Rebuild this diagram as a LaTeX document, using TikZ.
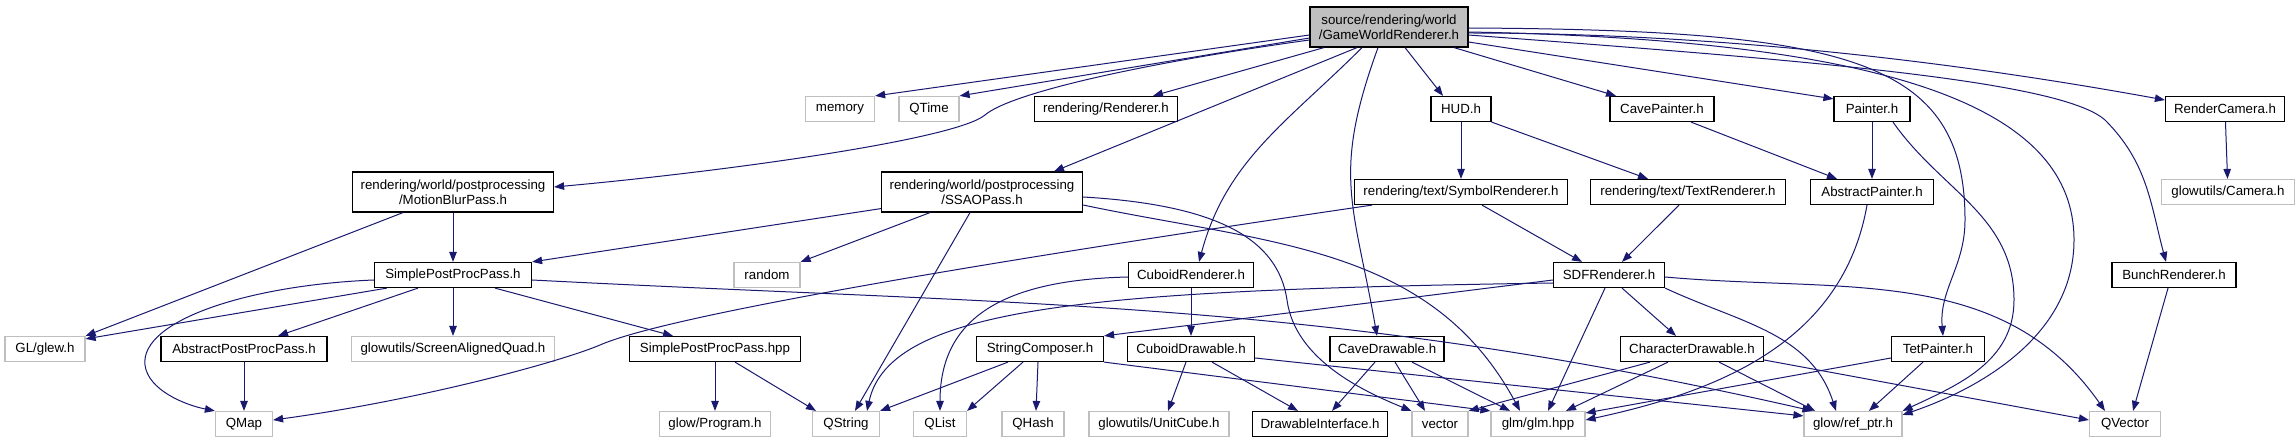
\documentclass[tikz,border=0pt]{standalone}
\usepackage{fontspec}
\setmainfont{Liberation Sans}
\usetikzlibrary{arrows.meta}
\definecolor{edgeblue}{RGB}{25,25,112}
\definecolor{boxgray}{RGB}{191,191,191}

\begin{document}
\begin{tikzpicture}[x=1pt,y=1pt,
	box/.style={rectangle, line width=1.2pt, fill=white, minimum height=25pt, inner xsep=0pt, inner ysep=0pt, align=center, font=\fontsize{13.3}{15}\selectfont},
	incl/.style={box, draw=black, minimum width=#1pt},
	sysinc/.style={box, draw=boxgray, minimum width=#1pt},
	mainfile/.style={box, draw=black, fill=boxgray, minimum width=#1pt, minimum height=40pt},
	twoline/.style={minimum height=40pt},
	uses/.style={draw=edgeblue, line width=1pt, -{Triangle[length=10pt,width=7.5pt]}}]
			\useasboundingbox[fill=white] (0,0) rectangle (2296,-443);
% 			files, row by row
			\node[mainfile=158] (gwr) at (1389,-27) {source/rendering/world\\/GameWorldRenderer.h};
			\node[sysinc=69] (memory) at (840,-109) {memory};
			\node[sysinc=60] (qtime) at (929,-109) {QTime};
			\node[incl=143] (renderer) at (1106,-109) {rendering/Renderer.h};
			\node[incl=60] (hud) at (1461,-109) {HUD.h};
			\node[incl=104] (cavepainter) at (1662,-109) {CavePainter.h};
			\node[incl=76] (painter) at (1872,-109) {Painter.h};
			\node[incl=119] (rendercam) at (2225,-109) {RenderCamera.h};
			\node[incl=201, twoline] (motionblur) at (453,-192) {rendering/world/postprocessing\\/MotionBlurPass.h};
			\node[incl=201, twoline] (ssao) at (982,-192) {rendering/world/postprocessing\\/SSAOPass.h};
			\node[incl=213] (symbol) at (1461,-192) {rendering/text/SymbolRenderer.h};
			\node[incl=195] (textrend) at (1688,-192) {rendering/text/TextRenderer.h};
			\node[incl=123] (abspainter) at (1872,-192) {AbstractPainter.h};
			\node[sysinc=133] (camera) at (2228,-192) {glowutils/Camera.h};
			\node[incl=157] (simplepp) at (453,-275) {SimplePostProcPass.h};
			\node[sysinc=66] (random) at (767,-275) {random};
			\node[incl=125] (cuboidrend) at (1191,-275) {CuboidRenderer.h};
			\node[incl=111] (sdf) at (1609,-275) {SDFRenderer.h};
			\node[incl=124] (bunch) at (2174,-275) {BunchRenderer.h};
			\node[sysinc=80] (glew) at (45,-349) {GL/glew.h};
			\node[incl=166] (abspp) at (244,-349) {AbstractPostProcPass.h};
			\node[sysinc=203] (quad) at (453,-349) {glowutils/ScreenAlignedQuad.h};
			\node[incl=171] (simpleppx) at (715,-349) {SimplePostProcPass.hpp};
			\node[incl=127] (stringcomp) at (1040,-349) {StringComposer.h};
			\node[incl=127] (cuboiddraw) at (1191,-349) {CuboidDrawable.h};
			\node[incl=114] (cavedraw) at (1387,-349) {CaveDrawable.h};
			\node[incl=143] (chardraw) at (1692,-349) {CharacterDrawable.h};
			\node[incl=93] (tetpainter) at (1938,-349) {TetPainter.h};
			\node[sysinc=57] (qmap) at (244,-424) {QMap};
			\node[sysinc=111] (program) at (715,-424) {glow/Program.h};
			\node[sysinc=67] (qstring) at (846,-424) {QString};
			\node[sysinc=53] (qlist) at (940,-424) {QList};
			\node[sysinc=62] (qhash) at (1033,-424) {QHash};
			\node[sysinc=140] (unitcube) at (1159,-424) {glowutils/UnitCube.h};
			\node[incl=135] (drawable) at (1320,-424) {DrawableInterface.h};
			\node[sysinc=56] (vector) at (1440,-424) {vector};
			\node[sysinc=94] (glm) at (1538,-424) {glm/glm.hpp};
			\node[sysinc=98] (refptr) at (1853,-424) {glow/ref\_ptr.h};
			\node[sysinc=71] (qvector) at (2125,-424) {QVector};

			\begin{scope}
			\draw[uses] ([yshift=-8pt]gwr.west) -- (memory.north east);
			\draw[uses] ([yshift=-11pt]gwr.west) -- (qtime.north east);
			\draw[uses] ([yshift=-13pt]gwr.west) .. controls (1150,-62) and (1012,-92) .. (985,-115) .. controls (955,-140) and (720,-172) .. ([yshift=5pt]motionblur.east);
			\draw[uses] ([xshift=-65pt]gwr.south) -- ([xshift=47pt]renderer.north);
			\draw[uses] ([xshift=-32pt]gwr.south) -- ([xshift=72pt]ssao.north);
			\draw[uses] ([xshift=-27pt]gwr.south) to[out=-135,in=75] ([xshift=8pt]cuboidrend.north);
			\draw[uses] ([xshift=-11pt]gwr.south) to[out=-110,in=100,looseness=1.2] ([xshift=-10pt]cavedraw.north);
			\draw[uses] ([xshift=16pt]gwr.south) -- ([xshift=-18pt]hud.north);
			\draw[uses] ([xshift=65pt]gwr.south) -- ([xshift=-46pt]cavepainter.north);
			\draw[uses] ([yshift=-15pt]gwr.east) -- ([yshift=-3pt]painter.north west);
			\draw[uses] ([yshift=-6pt]gwr.east) .. controls (1750,-33) and (2000,-70) .. ([yshift=9pt]rendercam.west);
			\draw[uses] ([yshift=-1pt]gwr.east) .. controls (1850,-30) and (1965,-60) .. (1965,-220) to[out=-90,in=95] ([xshift=5pt]tetpainter.north);
			\draw[uses] ([yshift=-5pt]gwr.east) .. controls (1900,-40) and (2074,-110) .. (2074,-240) .. controls (2074,-330) and (1990,-385) .. ([yshift=-4pt]refptr.north east);
			\draw[uses] ([yshift=-8pt]gwr.east) .. controls (1800,-60) and (2060,-80) .. (2105,-120) to[out=-45,in=105] ([xshift=-8pt]bunch.north);
			\end{scope}

			\draw[uses] (motionblur) -- (simplepp);
			\draw[uses] ([xshift=-50pt]motionblur.south) -- (glew.north east);
			\draw[uses] ([yshift=4pt]ssao.south west) -- (simplepp.north east);
			\draw[uses] ([xshift=-52pt]ssao.south) -- (random.north east);
			\draw[uses] ([xshift=-12pt]ssao.south) -- ([xshift=9pt]qstring.north);
			\draw[uses] ([yshift=-5pt]ssao.east) .. controls (1220,-205) and (1278,-240) .. (1287,-300) .. controls (1295,-360) and (1365,-392) .. (vector.north west);
			\draw[uses] ([yshift=-13pt]ssao.east) .. controls (1268,-244) and (1431,-245) .. ([xshift=-18pt]glm.north);
			\draw[uses] ([xshift=21pt]symbol.south) -- ([xshift=-27pt]sdf.north);
			\draw[uses] ([xshift=-89pt]symbol.south) .. controls (1100,-245) and (680,-310) .. (600,-345) .. controls (560,-362) and (420,-400) .. ([yshift=4pt]qmap.east);
			\draw[uses] ([xshift=-9pt]textrend.south) -- ([xshift=13pt]sdf.north);
			\draw[uses] (hud) -- (symbol);
			\draw[uses] (hud.south east) -- ([xshift=-40pt]textrend.north);
			\draw[uses] ([xshift=29pt]cavepainter.south) -- ([xshift=-35pt]abspainter.north);
			\draw[uses] (painter) -- (abspainter);
			\draw[uses] ([xshift=21pt]painter.south) to[out=-55,in=90] (2014,-300) to[out=-90,in=25] (refptr.north east);
			\draw[uses] (rendercam) -- (camera);
			\draw[uses] ([xshift=-5pt]abspainter.south) .. controls (1843,-341) and (1721,-391) .. ([yshift=4pt]glm.east);

			\begin{scope}
			\draw[uses] ([xshift=13pt]simplepp.south west) -- ([yshift=-3pt]glew.north east);
			\draw[uses] ([yshift=-5pt]simplepp.west) .. controls (250,-285) and (140,-320) .. (145,-365) .. controls (148,-390) and (185,-405) .. (qmap.north west);
			\draw[uses] ([xshift=-35pt]simplepp.south) -- ([xshift=34pt]abspp.north);
			\draw[uses] (simplepp) -- (quad);
			\draw[uses] ([xshift=42pt]simplepp.south) -- ([xshift=-42pt]simpleppx.north);
			\draw[uses] ([yshift=-5pt]simplepp.east) .. controls (1034,-306) and (1321,-299) .. ([xshift=9pt]refptr.north west);
			\draw[uses] (abspp) -- (qmap);
			\draw[uses] (simpleppx) -- (program);
			\draw[uses] ([xshift=20pt]simpleppx.south) -- ([xshift=-30pt]qstring.north);
			\draw[uses] (cuboidrend) -- (cuboiddraw);
			\draw[uses] ([yshift=-2pt]cuboidrend.west) .. controls (1000,-280) and (940,-320) .. (qlist.north);
			\end{scope}

			\begin{scope}
			\draw[uses] ([yshift=-5pt]sdf.west) -- (stringcomp.north east);
			\draw[uses] ([yshift=-8pt]sdf.west) .. controls (1100,-290) and (890,-305) .. ([xshift=21pt]qstring.north);
			\draw[uses] ([xshift=-4pt]sdf.south) -- ([xshift=10pt]glm.north);
			\draw[uses] ([xshift=13pt]sdf.south) -- ([xshift=-16pt]chardraw.north);
			\draw[uses] (sdf.south east) to[out=-25,in=108] ([xshift=-17pt]refptr.north);
			\draw[uses] ([yshift=-2pt]sdf.east) .. controls (1844,-293) and (2002,-264) .. ([xshift=-20pt]qvector.north);
			\draw[uses] ([xshift=-6pt]bunch.south) -- ([xshift=8pt]qvector.north);
			\end{scope}

			\draw[uses] ([xshift=-32pt]stringcomp.south) -- (qstring.north east);
			\draw[uses] ([xshift=-17pt]stringcomp.south) -- (qlist.north east);
			\draw[uses] ([xshift=-2pt]stringcomp.south) -- ([xshift=3pt]qhash.north);
			\draw[uses] (stringcomp.south east) -- (glm.north west);
			\draw[uses] ([xshift=-5pt]cuboiddraw.south) -- ([xshift=9pt]unitcube.north);
			\draw[uses] ([xshift=21pt]cuboiddraw.south) -- ([xshift=-22pt]drawable.north);
			\draw[uses] ([yshift=-9pt]cuboiddraw.east) -- ([yshift=-5pt]refptr.north west);
			\draw[uses] ([xshift=-12pt]cavedraw.south) -- ([xshift=12pt]drawable.north);
			\draw[uses] ([xshift=8pt]cavedraw.south) -- ([xshift=-15pt]vector.north);
			\draw[uses] ([xshift=25pt]cavedraw.south) -- ([xshift=-28pt]glm.north);
			\draw[uses] ([xshift=-42pt]chardraw.south) -- (vector.north east);
			\draw[uses] ([xshift=-24pt]chardraw.south) -- ([xshift=28pt]glm.north);
			\draw[uses] ([xshift=27pt]chardraw.south) -- ([xshift=-38pt]refptr.north);
			\draw[uses] ([yshift=-11pt]chardraw.east) -- ([yshift=4pt]qvector.west);
			\draw[uses] ([yshift=-9pt]tetpainter.west) -- ([yshift=11pt]glm.east);
			\draw[uses] ([xshift=-15pt]tetpainter.south) -- ([xshift=16pt]refptr.north);
\end{tikzpicture}
\end{document}
